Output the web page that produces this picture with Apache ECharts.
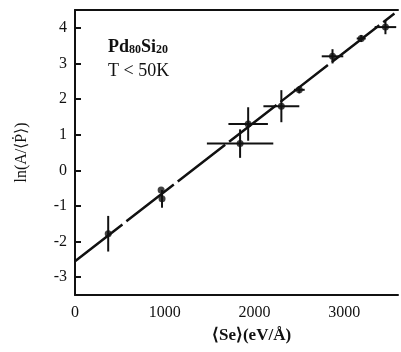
<!DOCTYPE html>
<html><head><meta charset="utf-8">
<script src="https://cdn.jsdelivr.net/npm/echarts@6/dist/echarts.min.js"></script>
<style>html,body{margin:0;padding:0;background:#fff}#c{width:401px;height:352px}</style>
</head><body><div id="c"></div>
<script>
// data
const xVals = [370, 960, 970, 1840, 1930, 2300, 2500, 2870, 3190, 3460];
const yVals = [-1.78, -0.55, -0.8, 0.75, 1.3, 1.8, 2.26, 3.2, 3.7, 4.02];
const xErr  = [0, 0, 0, 370, 220, 200, 60, 120, 50, 120];
const yErr  = [0.5, 0, 0.25, 0.4, 0.47, 0.45, 0.1, 0.2, 0.1, 0.2];
const fitX = [0, 3560];
const fitY = [-2.55, 4.4];
const yTicks = [-3, -2, -1, 0, 1, 2, 3, 4];
const xTicks = [0, 1000, 2000, 3000];

const pts = xVals.map((x, i) => [x, yVals[i]]);
const errData = xVals.map((x, i) => [x, yVals[i], xErr[i], yErr[i]]);
const fitData = fitX.map((x, i) => [x, fitY[i]]);

const serif = 'Liberation Serif';
const chart = echarts.init(document.getElementById('c'));
chart.setOption({
  animation: false,
  grid: {left: 75, right: 3, top: 10, bottom: 57},
  xAxis: [{
    type: 'value', min: 0, max: 3600,
    axisLine: {onZero: false, lineStyle: {color: '#111', width: 2}},
    axisTick: {show: false},
    splitLine: {show: false},
    axisLabel: {customValues: xTicks, formatter: v => String(v), color: '#111', fontFamily: serif, fontSize: 16, margin: 10},
    name: '⟨Se⟩(eV/Å)', nameLocation: 'middle', nameGap: 32,
    nameTextStyle: {color: '#111', fontFamily: serif, fontSize: 17, fontWeight: 'bold', padding: [0, 0, 0, 30]}
  }, {
    type: 'value', min: 0, max: 3600, position: 'top',
    axisLine: {show: true, onZero: false, lineStyle: {color: '#111', width: 2}},
    axisTick: {show: false}, axisLabel: {show: false}, splitLine: {show: false}
  }],
  yAxis: {
    type: 'value', min: -3.5, max: 4.5,
    axisLine: {onZero: false, lineStyle: {color: '#111', width: 2}},
    axisTick: {customValues: yTicks, inside: true, length: 6, lineStyle: {color: '#111', width: 2}},
    splitLine: {show: false},
    axisLabel: {customValues: yTicks, color: '#111', fontFamily: serif, fontSize: 16, margin: 8},
    name: 'ln(A/⟨Ṗ⟩)', nameLocation: 'middle', nameGap: 45, nameRotate: 90,
    nameTextStyle: {color: '#111', fontFamily: serif, fontSize: 16}
  },
  graphic: [
    {type: 'text', left: 108, top: 38, style: {
      text: '{m|Pd}{s|80}{m|Si}{s|20}',
      rich: {m: {font: 'bold 18px "Liberation Serif"', fill: '#111'},
             s: {font: 'bold 12px "Liberation Serif"', fill: '#111', padding: [6, 0, 0, 0]}}}},
    {type: 'text', left: 108, top: 62, style: {text: 'T < 50K', font: '18px "Liberation Serif"', fill: '#111'}}
  ],
  series: [
    {type: 'line', data: fitData, symbol: 'none', lineStyle: {color: '#111', width: 2.5, type: [60, 5]}, z: 2},
    {type: 'custom', data: errData, z: 3,
      renderItem: function (params, api) {
        const x = api.value(0), y = api.value(1), dx = api.value(2), dy = api.value(3);
        const children = [];
        const st = {stroke: '#111', lineWidth: 2};
        if (dy > 0) {
          const a = api.coord([x, y - dy]), b = api.coord([x, y + dy]);
          children.push({type: 'line', shape: {x1: a[0], y1: a[1], x2: b[0], y2: b[1]}, style: st});
        }
        if (dx > 0) {
          const a = api.coord([x - dx, y]), b = api.coord([x + dx, y]);
          children.push({type: 'line', shape: {x1: a[0], y1: a[1], x2: b[0], y2: b[1]}, style: st});
        }
        return {type: 'group', children: children};
      }
    },
    {type: 'scatter', data: pts, symbol: 'circle', symbolSize: 7, itemStyle: {color: '#111'}, z: 4}
  ]
});
</script></body></html>
